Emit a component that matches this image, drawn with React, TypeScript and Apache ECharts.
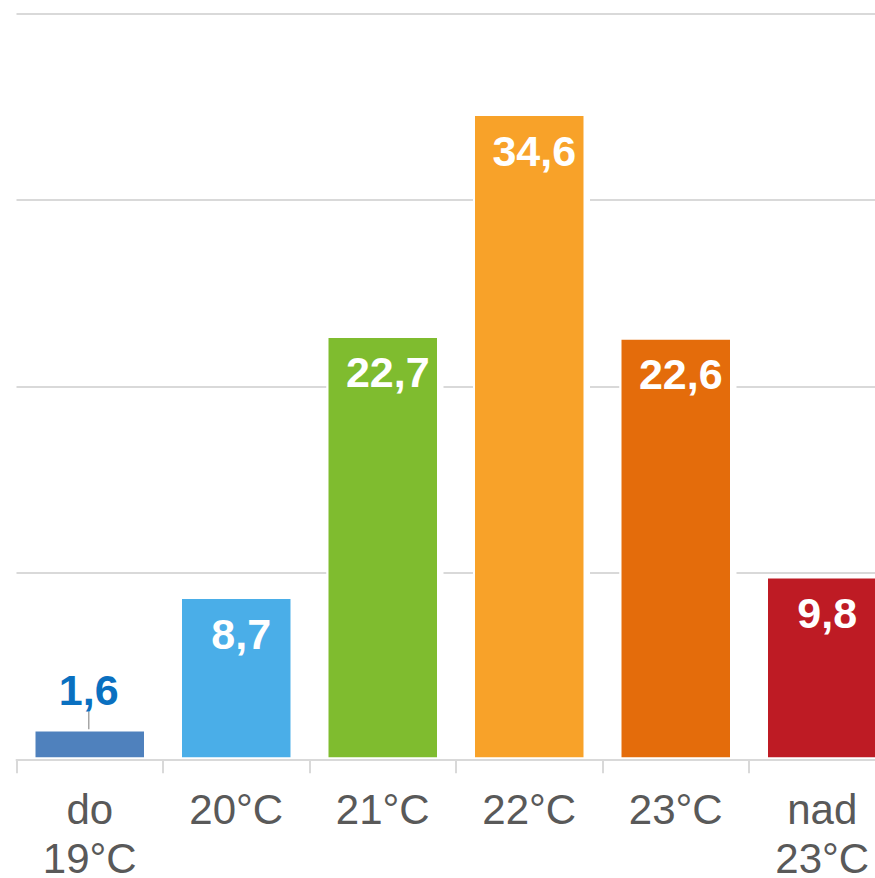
import React, { useEffect, useRef } from "react";
import * as echarts from "echarts";

const categories = ["do\n19°C", "20°C", "21°C", "22°C", "23°C", "nad\n23°C"];
const values = [1.6, 8.7, 22.7, 34.6, 22.6, 9.8];
const barColors = ["#4f81bd", "#4aaee8", "#7fbc2f", "#f8a229", "#e46c0b", "#be1b24"];
const yTicks = [0, 10, 20, 30, 40];

const FONT = "'Liberation Sans', Arial, sans-serif";
const fmt = (v: number) => String(v).replace(".", ",");

export default function App() {
  const ref = useRef<HTMLDivElement>(null);
  useEffect(() => {
    if (!ref.current) return;
    const chart = echarts.init(ref.current, undefined, { renderer: "svg" });
    chart.setOption({
      animation: false,
      backgroundColor: "#ffffff",
      grid: {
        left: 16.5,
        right: 4.5,
        top: 13.3,
        bottom: 118.7,
        containLabel: false,
        outerBoundsMode: "none",
      },
      xAxis: {
        type: "category",
        data: categories,
        z: 5,
        axisLine: { show: true, lineStyle: { color: "#d9d9d9", width: 2 } },
        axisTick: { show: true, length: 14, lineStyle: { color: "#d9d9d9", width: 2 } },
        axisLabel: {
          color: "#595959",
          fontFamily: FONT,
          fontSize: 42,
          lineHeight: 49,
          margin: 26,
          interval: 0,
        },
      },
      yAxis: {
        type: "value",
        min: yTicks[0],
        max: yTicks[yTicks.length - 1],
        interval: 10,
        axisLabel: { show: false },
        axisLine: { show: false },
        axisTick: { show: false },
        splitLine: { show: true, lineStyle: { color: "#d9d9d9", width: 2 } },
      },
      series: [
        {
          type: "bar",
          name: "halo",
          barWidth: 117,
          silent: true,
          data: values,
          itemStyle: { color: "#ffffff" },
          label: { show: false },
        },
        {
          type: "bar",
          name: "values",
          barWidth: 112.5,
          barGap: "-100%",
          data: values.map((v, i) => ({
            value: v,
            itemStyle: { color: barColors[i] },
            ...(i === 0
              ? {
                  label: { position: "top", color: "#0a70c0", distance: 4 },
                  labelLine: { show: true, lineStyle: { color: "#a6a6a6", width: 1.5 } },
                }
              : {}),
          })),
          itemStyle: { borderColor: "#ffffff", borderWidth: 2 },
          label: {
            show: true,
            position: "insideTop",
            distance: 15,
            color: "#ffffff",
            fontFamily: FONT,
            fontSize: 43,
            fontWeight: "bold",
            formatter: (p: any) => fmt(p.value),
          },
          labelLayout: (p: any) => (p.dataIndex === 0 ? { dy: -14, dx: -1 } : { dx: 5 }),
        },
      ],
    });
    return () => chart.dispose();
  }, []);
  return (
    <div style={{ position: "fixed", left: 0, top: 0, width: 875, height: 878, overflow: "hidden", background: "#fff" }}>
      <div ref={ref} style={{ width: 900, height: 878 }} />
    </div>
  );
}
